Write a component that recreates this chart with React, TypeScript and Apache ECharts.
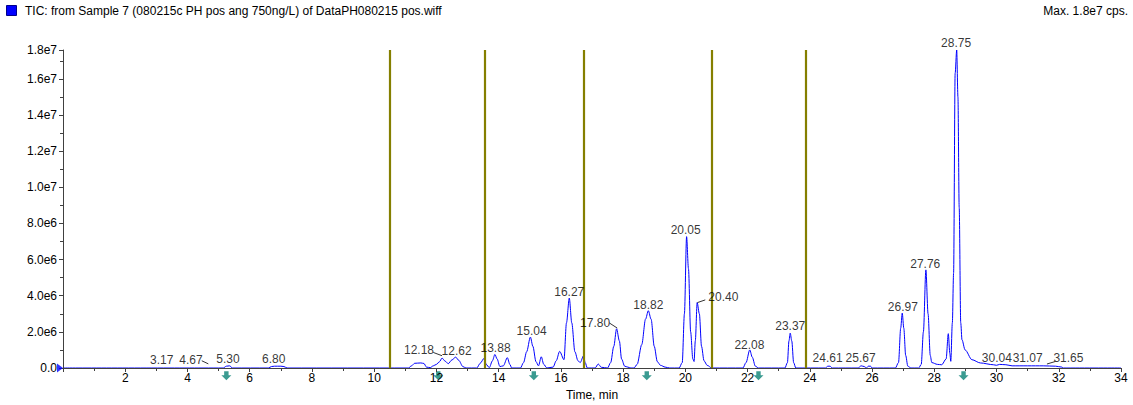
import React, { useEffect, useRef } from 'react';
import * as echarts from 'echarts';

// TIC trace: retention time (min) and intensity (millions of cps)
const traceTime = [
  0, 4.5, 4.85, 5.15, 5.25, 5.35, 5.45, 6.6, 6.7, 6.8, 7.0, 7.1, 7.2,
  11.1, 11.2, 11.3, 11.5, 11.6, 11.68, 11.8, 11.9, 12.0, 12.1, 12.18, 12.28, 12.38, 12.5, 12.62, 12.72, 12.85, 12.95,
  13.3, 13.4, 13.54, 13.6, 13.7, 13.8, 13.88, 13.95, 14.04, 14.15, 14.28, 14.36, 14.42,
  14.7, 14.8, 14.9, 15.02, 15.1, 15.2, 15.28, 15.37, 15.45, 15.55,
  15.75, 15.85, 15.96, 16.1, 16.18, 16.27, 16.35, 16.45, 16.55, 16.62, 16.73, 16.78, 16.85,
  17.1, 17.2, 17.3, 17.5, 17.6, 17.7, 17.79, 17.88, 17.95, 18.05, 18.15, 18.25,
  18.35, 18.45, 18.6, 18.72, 18.81, 18.9, 19.0, 19.1, 19.2, 19.35, 19.5,
  19.8, 19.9, 19.97, 20.04, 20.1, 20.17, 20.24, 20.28, 20.32, 20.38, 20.45, 20.52, 20.6, 20.7, 20.85,
  21.85, 21.95, 22.07, 22.15, 22.25, 22.35,
  23.2, 23.28, 23.33, 23.37, 23.42, 23.48, 23.55,
  24.5, 24.58, 24.65, 24.72,
  25.55, 25.65, 25.75, 25.82, 25.88, 25.95, 26.0,
  26.75, 26.85, 26.92, 26.97, 27.02, 27.08, 27.15, 27.25,
  27.5, 27.58, 27.65, 27.73, 27.8, 27.87, 27.92, 28.1, 28.24, 28.38, 28.45, 28.5, 28.53,
  28.58, 28.62, 28.67, 28.72, 28.76, 28.8, 28.85, 28.89, 28.99, 29.21, 29.48, 29.9,
  30.0, 30.1, 30.3, 30.5, 31.0, 31.5, 31.9, 32.1, 32.15, 34,
];
const traceMillions = [
  0, 0, 0, 0, 0.1, 0.12, 0, 0, 0.08, 0.1, 0.1, 0.08, 0,
  0, 0.12, 0.26, 0.28, 0.25, 0.05, 0.02, 0.12, 0.2, 0.35, 0.55, 0.38, 0.24, 0.45, 0.6, 0.42, 0.08, 0,
  0, 0.25, 0.55, 0.2, 0.02, 0.4, 0.75, 0.5, 0.08, 0.12, 0.57, 0.2, 0,
  0, 0.3, 0.9, 1.71, 1.2, 0.35, 0.12, 0.62, 0.2, 0,
  0.05, 0.4, 0.92, 0.46, 2.5, 3.87, 2.5, 0.9, 0.4, 0.3, 0.68, 0.3, 0,
  0, 0.22, 0.04, 0, 0.3, 1.2, 2.17, 1.5, 0.5, 0.1, 0.05, 0,
  0, 0.2, 1.3, 2.7, 3.17, 2.7, 1.2, 0.35, 0.15, 0.05, 0,
  0, 0.3, 3.0, 7.27, 5.5, 2.0, 0.5, 0.36, 1.5, 3.62, 3.0, 1.2, 0.4, 0.15, 0,
  0, 0.3, 1.0, 0.6, 0.1, 0,
  0, 0.3, 1.5, 1.93, 1.5, 0.3, 0,
  0, 0.1, 0.1, 0,
  0, 0.12, 0.08, 0, 0.1, 0.1, 0,
  0, 0.3, 2.2, 3.04, 2.2, 0.7, 0.1, 0,
  0, 0.2, 2.0, 5.43, 3.0, 0.7, 0.3, 0.2, 0.18, 0.5, 1.9, 0.8, 0.37,
  2.5, 5.25, 16.3, 17.6, 15.0, 8.9, 2.5, 1.56, 1.0, 0.46, 0.28, 0.18,
  0.15, 0.2, 0.18, 0.12, 0.12, 0.12, 0.1, 0.05, 0, 0,
];

// Peak annotations: text, anchor time, anchor level (millions)
const peakLabels = ['3.17', '4.67', '5.30', '6.80', '12.18', '12.62', '13.88', '15.04', '16.27', '17.80', '18.82', '20.05', '20.40', '22.08', '23.37', '24.61', '25.67', '26.97', '27.76', '28.75', '30.04', '31.07', '31.65'];
const peakLabelTime = [3.17, 4.11, 5.3, 6.77, 11.44, 12.65, 13.9, 15.06, 16.27, 17.1, 18.81, 20.01, 21.22, 22.06, 23.37, 24.57, 25.63, 26.99, 27.71, 28.7, 30.01, 31.0, 32.31];
const peakLabelLevel = [0.44, 0.44, 0.48, 0.48, 0.97, 0.96, 1.12, 2.06, 4.2, 2.5, 3.5, 7.64, 3.92, 1.27, 2.3, 0.53, 0.57, 3.4, 5.76, 17.96, 0.53, 0.53, 0.53];

// Leader lines from label to peak: [t1, v1, t2, v2] (millions)
const leaderLines = [
  [4.46, 0.4, 4.67, 0.23],
  [11.9, 0.86, 12.18, 0.68],
  [17.56, 2.49, 17.81, 2.21],
  [20.39, 3.62, 20.64, 3.77],
  [31.62, 0.22, 31.89, 0.36],
];

const markerLines = [10.51, 13.54, 16.75, 20.84, 23.86];
const arrowTimes = [5.25, 12.06, 15.13, 18.76, 22.35, 28.94];

const Y_MAX = 17.6e6;
const FONT = 'Liberation Sans, Arial, Helvetica, sans-serif';

function fmtY(v: number): string {
  if (v === 0) return '0.0';
  if (v >= Y_MAX - 1) return '1.8e7';
  const m = v / 1e6;
  return m < 10 ? m.toFixed(1) + 'e6' : (m / 10).toFixed(1) + 'e7';
}

export default function App() {
  const ref = useRef<HTMLDivElement>(null);
  useEffect(() => {
    document.body.style.margin = '0';
    const chart = echarts.init(ref.current!, null, { renderer: 'svg' });
    const trace = traceTime.map((t, i) => [t, traceMillions[i] * 1e6]);
    const labels = peakLabels.map((s, i) => ({ value: [peakLabelTime[i], peakLabelLevel[i] * 1e6], name: s }));
    chart.setOption({
      animation: false,
      textStyle: { fontFamily: FONT },
      grid: { left: 63, right: 12, top: 50, bottom: 37, outerBoundsMode: 'none' },
      graphic: [
        { type: 'rect', shape: { x: 6.5, y: 5.5, width: 10, height: 10 }, style: { fill: '#0000ff', stroke: '#00008b', lineWidth: 1 } },
        { type: 'text', x: 25, y: 11, style: { text: 'TIC: from Sample 7 (080215c PH pos ang 750ng/L) of DataPH080215 pos.wiff', font: `12px ${FONT}`, fill: '#000', verticalAlign: 'middle' } },
        { type: 'text', x: 1128, y: 11, style: { text: 'Max. 1.8e7 cps.', font: `12px ${FONT}`, fill: '#000', align: 'right', verticalAlign: 'middle' } },
      ],
      xAxis: {
        type: 'value', min: 0, max: 34, interval: 2, z: 10,
        name: 'Time, min', nameLocation: 'middle', nameGap: 20,
        nameTextStyle: { fontSize: 12, color: '#000', fontFamily: FONT },
        axisLine: { show: true, lineStyle: { color: '#404040', width: 1 } },
        axisTick: { show: true, length: 4, lineStyle: { color: '#404040' } },
        minorTick: { show: true, splitNumber: 2, length: 3, lineStyle: { color: '#404040' } },
        axisLabel: { fontSize: 12, color: '#000', margin: 4, fontFamily: FONT, formatter: (v: number) => (v === 0 ? '' : String(v)) },
        splitLine: { show: false },
      },
      yAxis: {
        type: 'value', min: 0, max: Y_MAX, interval: 2e6, z: 10,
        axisLine: { show: true, lineStyle: { color: '#404040', width: 1 } },
        axisTick: { show: true, length: 4, lineStyle: { color: '#404040' } },
        minorTick: { show: true, splitNumber: 2, length: 3, lineStyle: { color: '#404040' } },
        axisLabel: { fontSize: 12, color: '#000', margin: 6, fontFamily: FONT, formatter: fmtY },
        splitLine: { show: false },
      },
      series: [
        {
          type: 'line', data: trace, showSymbol: false, smooth: 0.3, smoothMonotone: 'x',
          lineStyle: { color: '#0000ff', width: 1 }, z: 3,
          markLine: {
            silent: true, symbol: ['none', 'none'], label: { show: false },
            lineStyle: { color: '#857f00', width: 2.2, type: 'solid' },
            data: markerLines.map((x) => ({ xAxis: x })),
          },
        },
        {
          type: 'scatter', data: labels, symbolSize: 1, clip: false, z: 5,
          itemStyle: { color: 'transparent' },
          label: { show: true, position: 'inside', formatter: (p: any) => p.name, fontSize: 12, color: '#000', fontFamily: FONT },
          markLine: {
            silent: true, symbol: ['none', 'none'], label: { show: false },
            lineStyle: { color: '#000', width: 0.8, type: 'solid' },
            data: leaderLines.map((l) => [{ coord: [l[0], l[1] * 1e6] }, { coord: [l[2], l[3] * 1e6] }]),
          },
        },
        {
          type: 'scatter', data: arrowTimes.map((t) => [t, -0.43e6]), clip: false, z: 6,
          symbol: 'path://M2.8,0 L7.2,0 L7.2,4.5 L10,4.5 L5,10 L0,4.5 L2.8,4.5 Z', symbolSize: [10, 9],
          itemStyle: { color: '#0a8275' },
        },
        {
          type: 'scatter', data: [[0, 0]], clip: false, z: 12,
          symbol: 'path://M0,0 L10,6 L0,12 Z', symbolSize: [6, 9], symbolOffset: [-3, 0],
          itemStyle: { color: '#0000ff' },
        },
      ],
    });
    return () => chart.dispose();
  }, []);
  return <div ref={ref} style={{ width: 1133, height: 405 }} />;
}
